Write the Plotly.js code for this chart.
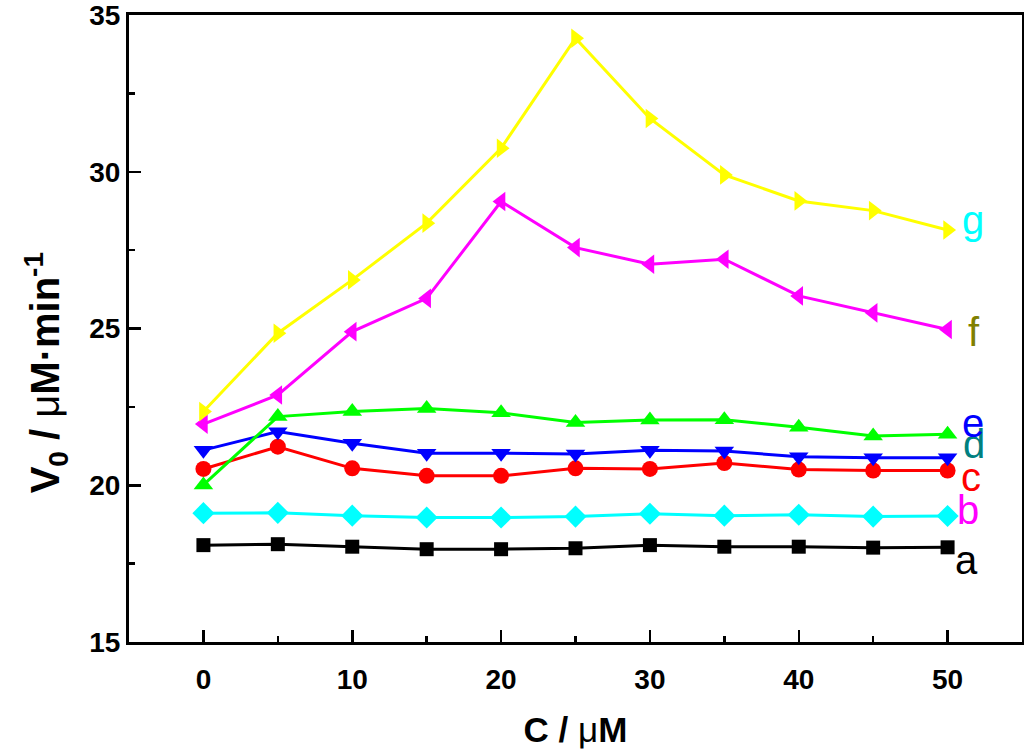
<!DOCTYPE html>
<html>
<head>
<meta charset="utf-8">
<script src="https://cdn.plot.ly/plotly-3.0.1.min.js"></script>
<style>html,body{margin:0;padding:0;background:#fff;}#chart{width:1024px;height:749px;}</style>
</head>
<body>
<div id="chart"></div>
<script>
const concentration = [0, 5, 10, 15, 20, 25, 30, 35, 40, 45, 50];
const seriesA = [18.09, 18.12, 18.04, 17.96, 17.96, 17.99, 18.09, 18.04, 18.04, 18.01, 18.02];
const seriesB = [19.11, 19.12, 19.03, 18.97, 18.97, 19.00, 19.09, 19.03, 19.06, 19.00, 19.02];
const seriesC = [20.52, 21.23, 20.54, 20.30, 20.30, 20.54, 20.52, 20.71, 20.50, 20.47, 20.47];
const seriesD = [21.12, 21.71, 21.34, 21.02, 21.02, 21.00, 21.12, 21.09, 20.91, 20.88, 20.88];
const seriesE = [20.01, 22.19, 22.35, 22.45, 22.31, 22.00, 22.08, 22.09, 21.85, 21.57, 21.63];
const seriesF = [21.95, 22.88, 24.90, 25.96, 29.05, 27.58, 27.05, 27.21, 26.04, 25.50, 24.97];
const seriesG = [22.35, 24.85, 26.55, 28.36, 30.75, 34.26, 31.70, 29.90, 29.07, 28.76, 28.14];
const seriesNames = ['a', 'b', 'c', 'd', 'e', 'f', 'g'];
const xTickVals = [0, 10, 20, 30, 40, 50];
const yTickVals = [15, 20, 25, 30, 35];
const xTitle = '<b>C / </b>μ<b>M</b>';
const yTitle = '<b>V<sub>0</sub> / </b>μ<b>M·min<sup>-1</sup></b>';

const values = [seriesA, seriesB, seriesC, seriesD, seriesE, seriesF, seriesG];
const lineColors = ['#000000', '#00FFFF', '#FF0000', '#0000FF', '#00FF00', '#FF00FF', '#FFFF00'];
const symbols = ['square', 'diamond', 'circle', 'triangle-down', 'triangle-up', 'triangle-left', 'triangle-right'];
const sizes = [14, 17, 16, 17, 17, 17, 17];
const labelColors = ['#000000', '#FF00FF', '#FF0000', '#008080', '#0000FF', '#808000', '#00FFFF'];
const labelX = [51.3, 51.4, 51.6, 51.8, 51.7, 51.8, 51.7];
const labelY = [17.6, 19.2, 20.25, 21.3, 22.0, 24.9, 28.45];

const traces = values.map((v, i) => ({
  x: concentration, y: v, type: 'scatter', mode: 'lines+markers', name: seriesNames[i],
  line: {color: lineColors[i], width: 3},
  marker: {symbol: symbols[i], size: sizes[i], color: lineColors[i], line: {width: 0}}
}));

const annotations = seriesNames.map((n, i) => ({
  x: labelX[i], y: labelY[i], xref: 'x', yref: 'y', text: n, showarrow: false,
  xanchor: 'center', yanchor: 'middle',
  font: {family: 'Liberation Sans, Arial, sans-serif', size: 40, color: labelColors[i]}
}));
annotations.push({
  x: -0.093, y: 0.43, xref: 'paper', yref: 'paper', text: yTitle, showarrow: false,
  textangle: -90, xanchor: 'center', yanchor: 'middle',
  font: {family: 'Liberation Sans, Arial, sans-serif', size: 40, color: '#000'}
});

const layout = {
  width: 1024, height: 749,
  margin: {l: 129, r: 2, t: 15, b: 107},
  paper_bgcolor: '#fff', plot_bgcolor: '#fff',
  showlegend: false,
  font: {family: 'Liberation Sans, Arial, sans-serif', color: '#000'},
  xaxis: {
    range: [-5, 55], tickvals: xTickVals, ticks: 'inside', ticklen: 12, tickwidth: 2.5, tickcolor: '#000',
    minor: {dtick: 5, tick0: 0, ticks: 'inside', ticklen: 6, tickwidth: 2.5, tickcolor: '#000'},
    showline: true, linewidth: 3, linecolor: '#000', mirror: true, showgrid: false, zeroline: false,
    ticklabelstandoff: 10,
    tickfont: {size: 28, family: 'Liberation Sans, Arial, sans-serif', weight: 'bold'},
    title: {text: xTitle, font: {size: 35}, standoff: 24}
  },
  yaxis: {
    range: [15, 35], tickvals: yTickVals, ticks: 'inside', ticklen: 12, tickwidth: 2.5, tickcolor: '#000',
    minor: {dtick: 2.5, tick0: 15, ticks: 'inside', ticklen: 6, tickwidth: 2.5, tickcolor: '#000'},
    showline: true, linewidth: 3, linecolor: '#000', mirror: true, showgrid: false, zeroline: false,
    ticklabeloverflow: 'allow',
    tickfont: {size: 28, family: 'Liberation Sans, Arial, sans-serif', weight: 'bold'},
    title: {text: ''}
  },
  annotations: annotations
};

Plotly.newPlot('chart', traces, layout, {displayModeBar: false, staticPlot: true});
</script>
</body>
</html>
